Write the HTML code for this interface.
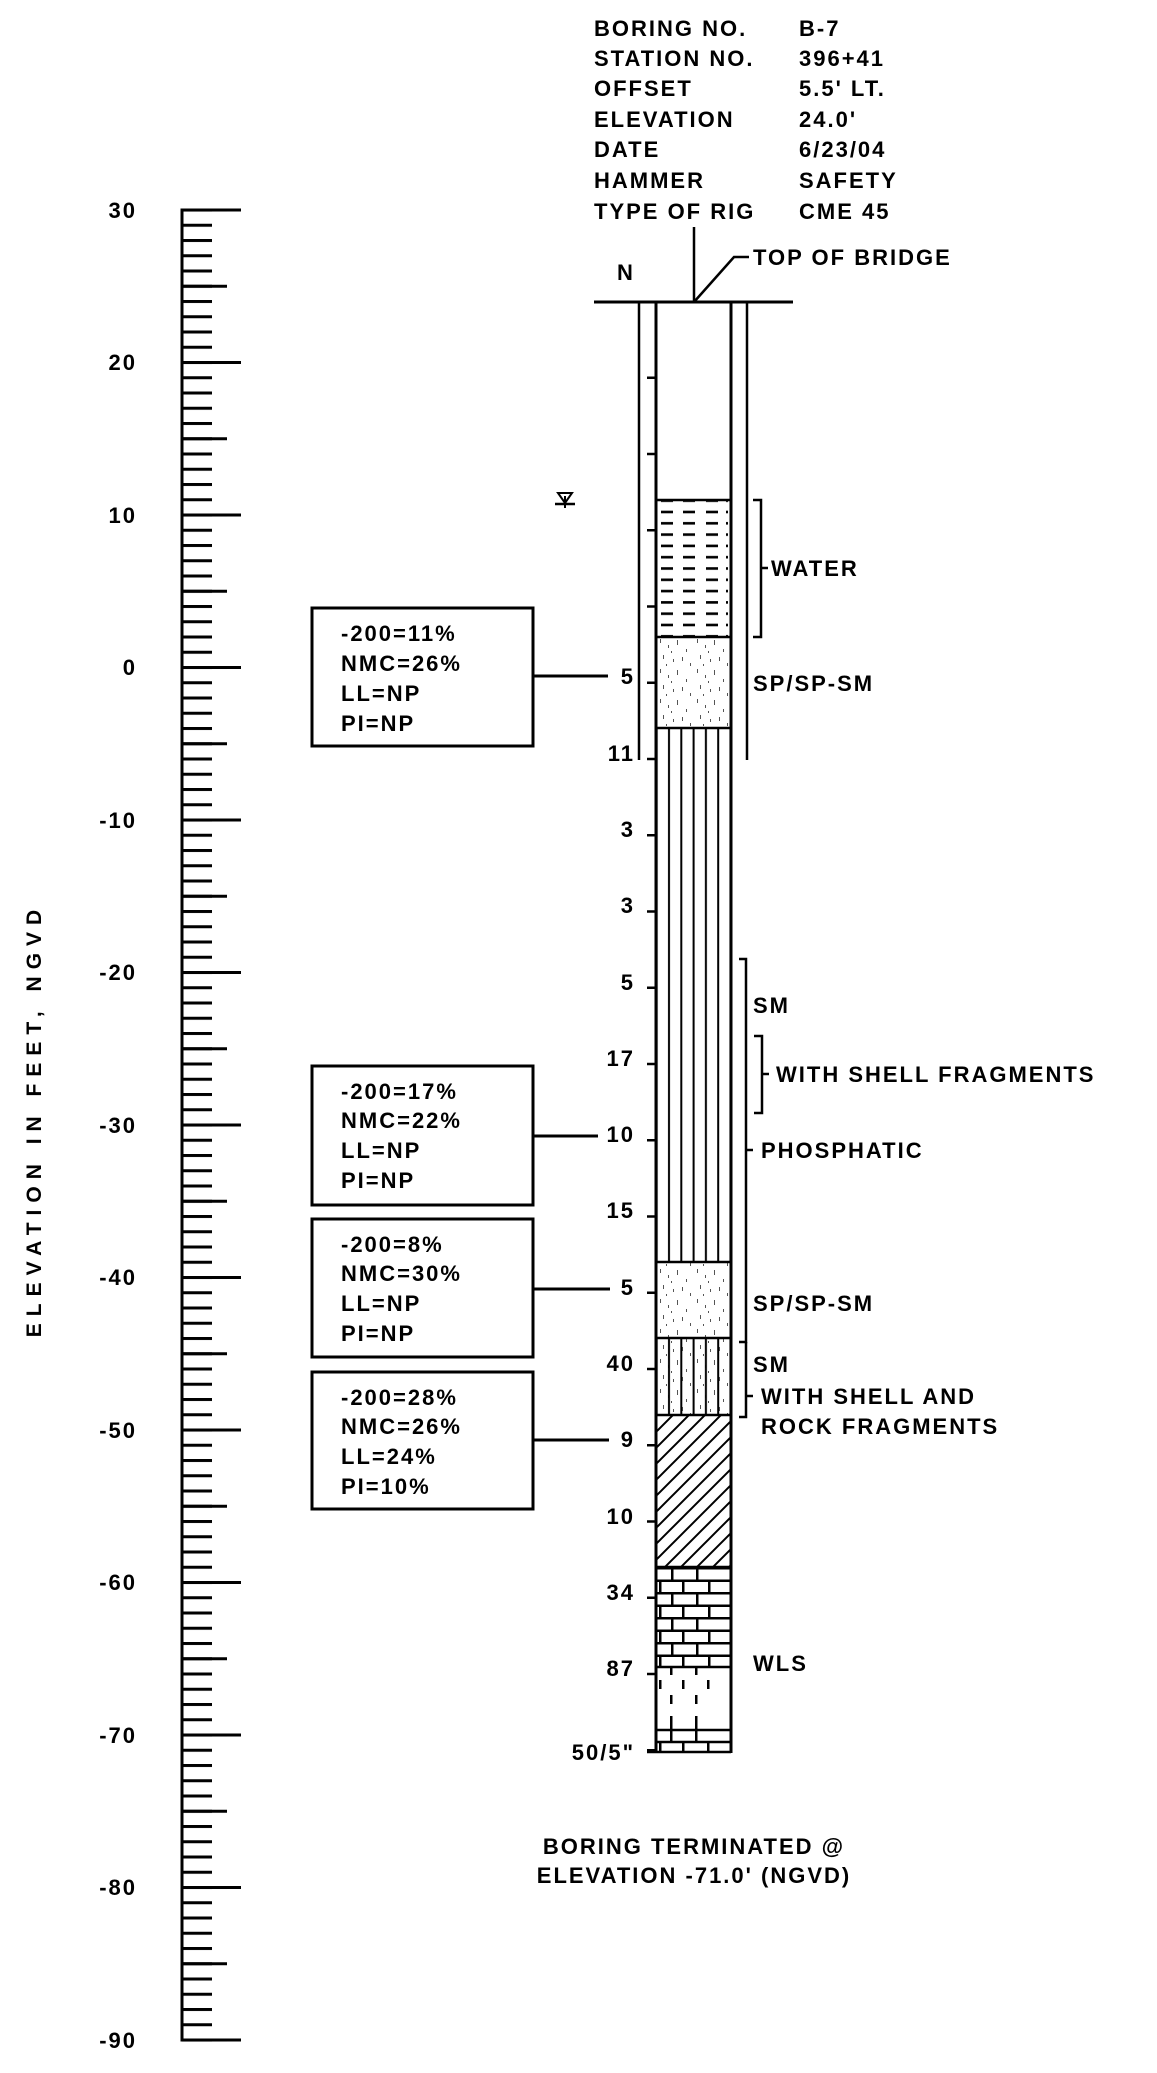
<!DOCTYPE html>
<html><head><meta charset="utf-8"><style>
html,body{margin:0;padding:0;background:#fff;}
svg{display:block;}
text{font-family:"Liberation Sans",sans-serif;fill:#000;font-weight:bold;}
.h{font-size:22px;letter-spacing:2px;}
.b{font-size:22px;letter-spacing:2px;}
.s{font-size:22px;letter-spacing:2px;}
</style></head><body>
<svg width="1157" height="2073" viewBox="0 0 1157 2073" xmlns="http://www.w3.org/2000/svg">
<defs>
<pattern id="minor" x="0" y="208.5" width="1157" height="15.25" patternUnits="userSpaceOnUse"><rect x="182" y="0" width="30" height="3" fill="#000"/></pattern>
<pattern id="mid" x="0" y="208.5" width="1157" height="76.25" patternUnits="userSpaceOnUse"><rect x="182" y="0" width="45" height="3" fill="#000"/></pattern>
<pattern id="maj" x="0" y="208.5" width="1157" height="152.5" patternUnits="userSpaceOnUse"><rect x="182" y="0" width="59" height="3" fill="#000"/></pattern>
<pattern id="dtick" x="0" y="376.5" width="1157" height="76.25" patternUnits="userSpaceOnUse"><rect x="647" y="0" width="9" height="2.5" fill="#000"/></pattern>
<pattern id="water" x="657" y="517" width="74" height="11.3" patternUnits="userSpaceOnUse"><rect x="4" y="5" width="12" height="2.6" fill="#000"/><rect x="26" y="5" width="12" height="2.6" fill="#000"/><rect x="49" y="5" width="12" height="2.6" fill="#000"/><rect x="69" y="5" width="2" height="2.6" fill="#000"/></pattern>
<pattern id="sand" x="657" y="637" width="37" height="30" patternUnits="userSpaceOnUse"><g fill="#555"><rect x="3" y="2" width="1" height="4"/><rect x="11" y="8" width="1" height="3"/><rect x="20" y="3" width="1" height="5"/><rect x="29" y="12" width="1" height="3"/><rect x="6" y="18" width="1" height="4"/><rect x="16" y="22" width="1" height="3"/><rect x="25" y="20" width="1" height="4"/><rect x="33" y="26" width="1" height="3"/><rect x="9" y="27" width="1" height="2"/><rect x="14" y="14" width="1" height="2"/></g></pattern>
<pattern id="vlines" x="663" y="0" width="12.3" height="20" patternUnits="userSpaceOnUse"><rect x="5" y="0" width="2" height="20" fill="#000"/></pattern>
<pattern id="hatch" x="657" y="1415" width="16" height="16" patternUnits="userSpaceOnUse"><path d="M-2,18 L18,-2 M-2,2 L2,-2 M14,18 L18,14" stroke="#000" stroke-width="2"/></pattern>
<pattern id="brick" x="657" y="1567" width="74" height="25" patternUnits="userSpaceOnUse"><rect x="0" y="0" width="74" height="2.5" fill="#000"/><rect x="0" y="12.5" width="74" height="2.5" fill="#000"/><rect x="14" y="0" width="2.5" height="13" fill="#000"/><rect x="39" y="0" width="2.5" height="13" fill="#000"/><rect x="25" y="12.5" width="2.5" height="13" fill="#000"/><rect x="51" y="12.5" width="2.5" height="13" fill="#000"/><rect x="2" y="12.5" width="2.5" height="13" fill="#000"/></pattern>
</defs>

<g class="h">
<text x="594" y="36">BORING NO.</text><text x="799" y="36">B-7</text>
<text x="594" y="66">STATION NO.</text><text x="799" y="66">396+41</text>
<text x="594" y="96">OFFSET</text><text x="799" y="96">5.5' LT.</text>
<text x="594" y="127">ELEVATION</text><text x="799" y="127">24.0'</text>
<text x="594" y="157">DATE</text><text x="799" y="157">6/23/04</text>
<text x="594" y="188">HAMMER</text><text x="799" y="188">SAFETY</text>
<text x="594" y="219">TYPE OF RIG</text><text x="799" y="219">CME 45</text>
</g>

<line x1="182" y1="208.5" x2="182" y2="2041.5" stroke="#000" stroke-width="3"/>
<rect x="180" y="208" width="65" height="1836" fill="url(#minor)"/>
<rect x="180" y="208" width="65" height="1836" fill="url(#mid)"/>
<rect x="180" y="208" width="65" height="1836" fill="url(#maj)"/>
<g class="s" text-anchor="end">
<text x="137" y="218">30</text><text x="137" y="370">20</text><text x="137" y="523">10</text>
<text x="137" y="675">0</text><text x="137" y="828">-10</text><text x="137" y="980">-20</text>
<text x="137" y="1133">-30</text><text x="137" y="1285">-40</text><text x="137" y="1438">-50</text>
<text x="137" y="1590">-60</text><text x="137" y="1743">-70</text><text x="137" y="1895">-80</text>
<text x="137" y="2048">-90</text>
</g>
<text class="s" transform="translate(41,1120) rotate(-90)" text-anchor="middle" style="letter-spacing:7px;font-size:21px">ELEVATION IN FEET, NGVD</text>

<line x1="594" y1="302" x2="793" y2="302" stroke="#000" stroke-width="3"/>
<line x1="694" y1="227" x2="694" y2="302" stroke="#000" stroke-width="2.5"/>
<polyline points="694,302 734,257 749,257" fill="none" stroke="#000" stroke-width="2.5"/>
<text class="h" x="753" y="265">TOP OF BRIDGE</text>
<text class="h" x="617" y="280">N</text>

<path d="M558,493 L572,493 L565,503 Z" fill="none" stroke="#000" stroke-width="2"/>
<line x1="555" y1="504" x2="575" y2="504" stroke="#000" stroke-width="2.5"/>
<line x1="565" y1="496" x2="565" y2="508" stroke="#000" stroke-width="2"/>

<line x1="639" y1="302" x2="639" y2="760" stroke="#000" stroke-width="2.5"/>
<line x1="747" y1="302" x2="747" y2="760" stroke="#000" stroke-width="2.5"/>

<rect x="657" y="500" width="74" height="137" fill="url(#water)"/>
<rect x="657" y="637" width="74" height="91" fill="url(#sand)"/>
<rect x="657" y="728" width="74" height="534" fill="url(#vlines)"/>
<rect x="657" y="1262" width="74" height="76" fill="url(#sand)"/>
<rect x="657" y="1338" width="74" height="77" fill="url(#sand)"/>
<rect x="657" y="1338" width="74" height="77" fill="url(#vlines)"/>
<rect x="657" y="1415" width="74" height="152" fill="url(#hatch)"/>
<rect x="657" y="1567" width="74" height="100" fill="url(#brick)"/>
<g fill="#000">
<rect x="670" y="1667" width="2.5" height="8"/><rect x="695" y="1667" width="2.5" height="8"/>
<rect x="659" y="1680" width="2.5" height="9"/><rect x="682" y="1680" width="2.5" height="9"/><rect x="707" y="1680" width="2.5" height="9"/>
<rect x="670" y="1695" width="2.5" height="9"/><rect x="695" y="1695" width="2.5" height="9"/>
<rect x="670" y="1716" width="2.5" height="14"/><rect x="695" y="1716" width="2.5" height="14"/>
<rect x="670" y="1730" width="2.5" height="12"/><rect x="695" y="1730" width="2.5" height="12"/>
<rect x="682" y="1742" width="2.5" height="10"/><rect x="707" y="1742" width="2.5" height="10"/><rect x="659" y="1742" width="2.5" height="10"/>
</g>
<g stroke="#000" stroke-width="2.5">
<line x1="657" y1="1730" x2="731" y2="1730"/><line x1="657" y1="1742" x2="731" y2="1742"/>
<line x1="657" y1="500" x2="731" y2="500"/><line x1="657" y1="637" x2="731" y2="637"/>
<line x1="657" y1="728" x2="731" y2="728"/><line x1="657" y1="1262" x2="731" y2="1262"/>
<line x1="657" y1="1338" x2="731" y2="1338"/><line x1="657" y1="1415" x2="731" y2="1415"/>
<line x1="657" y1="1567" x2="731" y2="1567"/><line x1="657" y1="1667" x2="731" y2="1667"/>
<line x1="647" y1="1752" x2="731" y2="1752"/>
</g>
<line x1="656" y1="302" x2="656" y2="1753" stroke="#000" stroke-width="3"/>
<line x1="731" y1="302" x2="731" y2="1753" stroke="#000" stroke-width="3"/>
<rect x="645" y="370" width="12" height="1385" fill="url(#dtick)"/>

<g class="s" text-anchor="end">
<text x="635" y="684">5</text><text x="635" y="761">11</text><text x="635" y="837">3</text>
<text x="635" y="913">3</text><text x="635" y="990">5</text><text x="635" y="1066">17</text>
<text x="635" y="1142">10</text><text x="635" y="1218">15</text><text x="635" y="1295">5</text>
<text x="635" y="1371">40</text><text x="635" y="1447">9</text><text x="635" y="1524">10</text>
<text x="635" y="1600">34</text><text x="635" y="1676">87</text><text x="635" y="1760">50/5"</text>
</g>

<g fill="none" stroke="#000" stroke-width="2.5">
<polyline points="753,500 761,500 761,637 753,637"/><line x1="761" y1="568" x2="768" y2="568"/>
<polyline points="739,959 746,959 746,1342 739,1342"/><line x1="746" y1="1150" x2="753" y2="1150"/>
<polyline points="754,1036 762,1036 762,1113 754,1113"/><line x1="762" y1="1074" x2="769" y2="1074"/>
<polyline points="746,1342 746,1417 739,1417"/><line x1="746" y1="1396" x2="753" y2="1396"/>
</g>
<g class="s">
<text x="771" y="576">WATER</text>
<text x="753" y="691">SP/SP-SM</text>
<text x="753" y="1013">SM</text>
<text x="776" y="1082">WITH SHELL FRAGMENTS</text>
<text x="761" y="1158">PHOSPHATIC</text>
<text x="753" y="1311">SP/SP-SM</text>
<text x="753" y="1372">SM</text>
<text x="761" y="1404">WITH SHELL AND</text>
<text x="761" y="1434">ROCK FRAGMENTS</text>
<text x="753" y="1671">WLS</text>
</g>

<g fill="none" stroke="#000" stroke-width="3">
<rect x="312" y="608" width="221" height="138"/><line x1="533" y1="676" x2="608" y2="676"/>
<rect x="312" y="1066" width="221" height="139"/><line x1="533" y1="1136" x2="598" y2="1136"/>
<rect x="312" y="1219" width="221" height="138"/><line x1="533" y1="1289" x2="610" y2="1289"/>
<rect x="312" y="1372" width="221" height="137"/><line x1="533" y1="1440" x2="609" y2="1440"/>
</g>
<g class="b">
<text x="341" y="641">-200=11%</text><text x="341" y="671">NMC=26%</text><text x="341" y="701">LL=NP</text><text x="341" y="731">PI=NP</text>
<text x="341" y="1099">-200=17%</text><text x="341" y="1128">NMC=22%</text><text x="341" y="1158">LL=NP</text><text x="341" y="1188">PI=NP</text>
<text x="341" y="1252">-200=8%</text><text x="341" y="1281">NMC=30%</text><text x="341" y="1311">LL=NP</text><text x="341" y="1341">PI=NP</text>
<text x="341" y="1405">-200=28%</text><text x="341" y="1434">NMC=26%</text><text x="341" y="1464">LL=24%</text><text x="341" y="1494">PI=10%</text>
</g>

<g class="s" text-anchor="middle">
<text x="694" y="1854">BORING TERMINATED @</text>
<text x="694" y="1883">ELEVATION -71.0' (NGVD)</text>
</g>
</svg>
</body></html>
